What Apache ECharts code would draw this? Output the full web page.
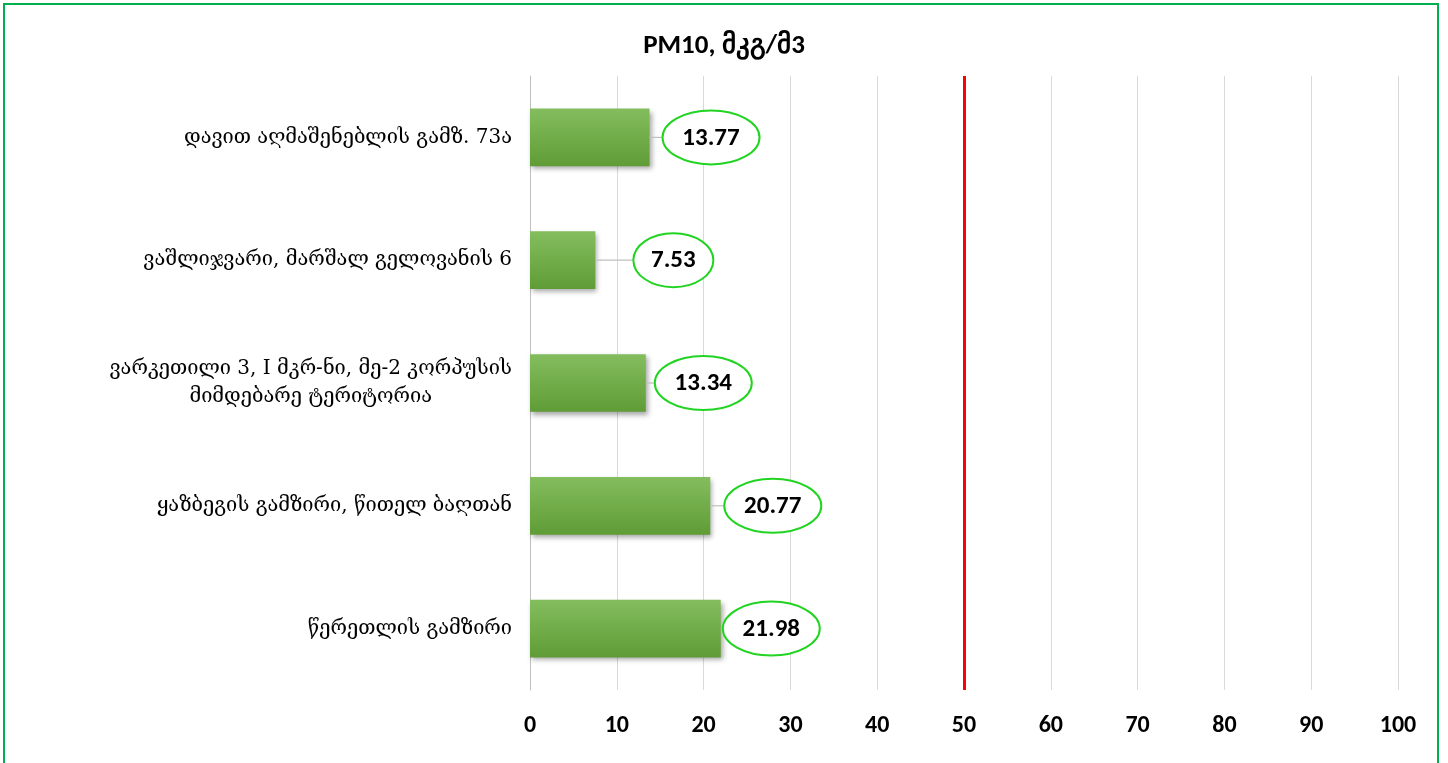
<!DOCTYPE html>
<html>
<head>
<meta charset="utf-8">
<script src="https://cdn.jsdelivr.net/npm/echarts@6/dist/echarts.min.js"></script>
<style>
html,body{margin:0;padding:0;background:#fff;overflow:hidden;}
#frame{position:absolute;left:3px;top:3px;width:1436px;height:780px;border:2px solid #00b050;box-sizing:border-box;}
#chart{position:absolute;left:0;top:0;width:1448px;height:763px;}
</style>
</head>
<body>
<div id="frame"></div>
<div id="chart"></div>
<script>
// Data (top to bottom as shown)
const categories = [
  'დავით აღმაშენებლის გამზ. 73ა',
  'ვაშლიჯვარი, მარშალ გელოვანის 6',
  'ვარკეთილი 3, I მკრ-ნი, მე-2 კორპუსის\nმიმდებარე ტერიტორია',
  'ყაზბეგის გამზირი, წითელ ბაღთან',
  'წერეთლის გამზირი'
];
const values = [13.77, 7.53, 13.34, 20.77, 21.98];
const limitValue = 50;
const xTicks = {min: 0, max: 100, interval: 10};
const titleText = 'PM10, მკგ/მ3';

// label layout (pixel gap between bar end and label ellipse)
const labelGap = [13, 38, 9, 14, 2];

const chart = echarts.init(document.getElementById('chart'));

const labelFont = 'Carlito, Lato, "Open Sans", sans-serif';
const geoFont = '"DejaVu Serif", "DejaVu Sans", serif';

chart.setOption({
  animation: false,
  title: {
    text: titleText,
    left: 'center',
    top: 28,
    textStyle: {fontSize: 27, fontWeight: 'bold', color: '#000', fontFamily: labelFont}
  },
  grid: {left: 530, right: 50, top: 76, bottom: 73, containLabel: false},
  xAxis: {
    type: 'value',
    min: xTicks.min, max: xTicks.max, interval: xTicks.interval,
    axisLine: {show: false},
    axisTick: {show: false},
    splitLine: {show: true, lineStyle: {color: '#d9d9d9', width: 1}},
    axisLabel: {fontSize: 24, fontWeight: 'bold', color: '#000', margin: 24, fontFamily: labelFont}
  },
  yAxis: {
    type: 'category',
    inverse: true,
    data: categories,
    axisLine: {show: true, lineStyle: {color: '#bfbfbf', width: 1}},
    axisTick: {show: false},
    axisLabel: {
      margin: 18,
      fontSize: 20,
      color: '#000',
      fontFamily: geoFont,
      lineHeight: 28,
      formatter: function (v) {
        return v.split('\n').map(s => '{c|' + s + '}').join('\n');
      },
      rich: {
        c: {align: 'center', fontSize: 20, fontFamily: geoFont, color: '#000', lineHeight: 28}
      }
    }
  },
  series: [
    {
      type: 'bar',
      data: values,
      barWidth: '47%',
      itemStyle: {
        color: new echarts.graphic.LinearGradient(0, 0, 0, 1, [
          {offset: 0, color: '#84bd5e'},
          {offset: 1, color: '#5f9c36'}
        ]),
        shadowColor: 'rgba(0,0,0,0.35)',
        shadowBlur: 5,
        shadowOffsetX: 2,
        shadowOffsetY: 3
      },
      markLine: {
        silent: true,
        symbol: 'none',
        label: {show: false},
        lineStyle: {color: '#ff0000', width: 3, type: 'solid'},
        data: [{xAxis: limitValue}]
      },
      z: 2
    },
    {
      type: 'custom',
      z: 5,
      data: values.map((v, i) => [v, i]),
      renderItem: function (params, api) {
        const v = api.value(0);
        const idx = api.value(1);
        const p = api.coord([v, idx]);
        const txt = v.toFixed(2);
        const rx = txt.length * 8.5 + 6;
        const ry = 27;
        const gap = labelGap[idx];
        const left = p[0] + gap;
        const cx = left + rx;
        const cy = p[1];
        return {
          type: 'group',
          children: [
            {
              type: 'line',
              shape: {x1: p[0], y1: cy, x2: left, y2: cy},
              style: {stroke: '#bfbfbf', lineWidth: 1.2}
            },
            {
              type: 'path',
              shape: {
                pathData: 'M0,50 A50,50 0 1,0 100,50 A50,50 0 1,0 0,50 Z',
                x: left, y: cy - ry, width: rx * 2, height: ry * 2,
                layout: 'cover'
              },
              style: {fill: '#fff', stroke: '#22d422', lineWidth: 2}
            },
            {
              type: 'text',
              x: cx, y: cy + 1,
              style: {
                text: txt,
                fill: '#000',
                font: 'bold 25px ' + labelFont,
                align: 'center',
                verticalAlign: 'middle'
              }
            }
          ]
        };
      }
    }
  ]
});
</script>
</body>
</html>
